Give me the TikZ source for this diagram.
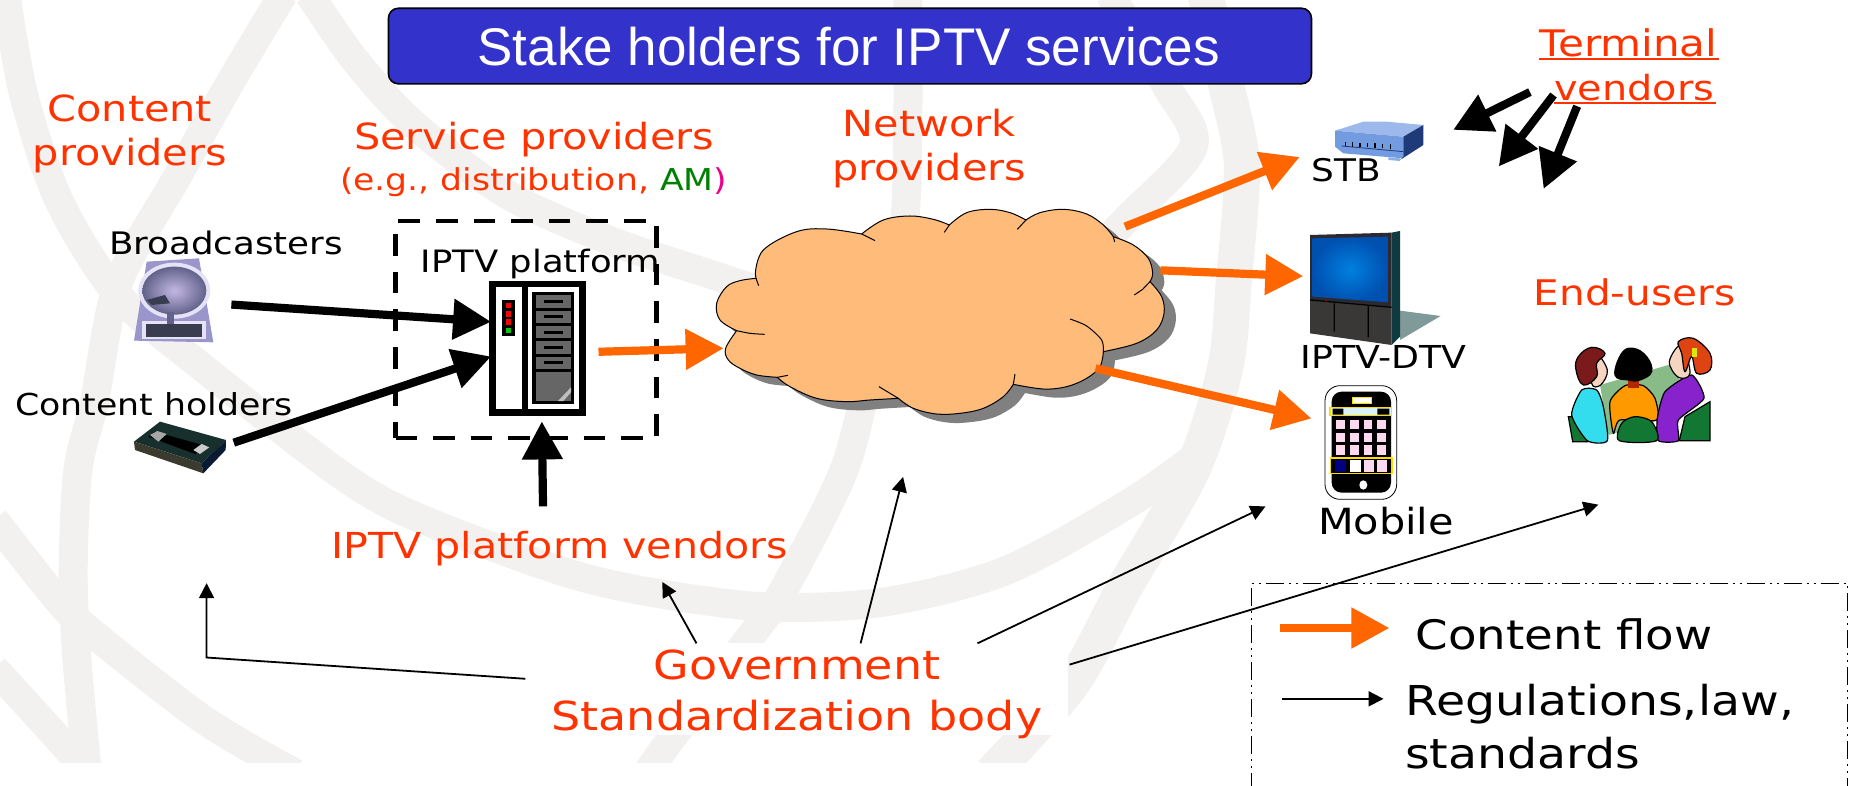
\documentclass[tikz,border=0pt]{standalone}
\usepackage{fontspec}
\setmainfont[FakeStretch=1.15]{DejaVu Sans}
\newfontfamily\titlefont{Liberation Sans}
\usetikzlibrary{arrows.meta,calc}
\definecolor{redtxt}{HTML}{FF3300}
\definecolor{flow}{HTML}{FF6600}
\definecolor{wmark}{HTML}{F2F1F0}
\definecolor{titleblue}{HTML}{3333CC}
\definecolor{cloudfill}{HTML}{FFBB7A}
\definecolor{stbfront}{HTML}{729BE0}
\definecolor{stbtop}{HTML}{9DB9EC}
\definecolor{stbside}{HTML}{1F3A78}
\definecolor{stbfoot}{HTML}{8FB0E8}
\definecolor{tvshadow}{HTML}{7F9A98}
\definecolor{tvside}{HTML}{0E3A40}
\definecolor{tvframe}{HTML}{2A2A30}
\definecolor{tvcab}{HTML}{3A3836}
\definecolor{tvin}{HTML}{0080E0}
\definecolor{tvout}{HTML}{0050B0}
\definecolor{skin}{HTML}{F5D5C0}
\definecolor{dishbg}{HTML}{9A96CC}
\definecolor{dishglow}{HTML}{E4E2F4}
\definecolor{dishin}{HTML}{C4B8E4}
\definecolor{dishout}{HTML}{62628A}
\definecolor{dishdark}{HTML}{3A3C50}
\definecolor{vhstop}{HTML}{17302E}
\definecolor{vhsfront}{HTML}{3B3A2E}
\definecolor{vhsside}{HTML}{0A1A30}
\definecolor{seatgreen}{HTML}{117733}
\definecolor{screengreen}{HTML}{88BB88}
\definecolor{shirtcyan}{HTML}{33DDEE}
\definecolor{shirtorange}{HTML}{FF9900}
\definecolor{shirtpurple}{HTML}{8822CC}
\definecolor{hairred}{HTML}{7A1A1A}
\definecolor{hairorange}{HTML}{DD4411}
\newcommand{\cloudshape}{plot[smooth,tension=.6] coordinates{(106,250)(130,180)(230,125)(320,117)(425,132)} -- plot[smooth,tension=.6] coordinates{(425,132)(490,90)(570,78)(640,88)(688,105)} -- plot[smooth,tension=.6] coordinates{(688,105)(740,68)(810,58)(870,68)(918,90)} -- plot[smooth,tension=.6] coordinates{(918,90)(960,68)(1030,58)(1100,72)(1150,105)(1180,140)} -- plot[smooth,tension=.6] coordinates{(1180,140)(1240,165)(1285,205)(1298,250)(1290,275)} -- plot[smooth,tension=.6] coordinates{(1290,275)(1325,320)(1332,370)(1310,420)(1250,460)(1150,485)} -- plot[smooth,tension=.6] coordinates{(1150,485)(1140,530)(1100,565)(1040,590)(970,597)(880,583)} -- plot[smooth,tension=.6] coordinates{(880,583)(850,620)(790,655)(720,670)(650,672)(580,655)(535,625)} -- plot[smooth,tension=.6] coordinates{(535,625)(450,630)(380,635)(290,625)(210,590)(172,562)} -- plot[smooth,tension=.6] coordinates{(172,562)(110,555)(60,535)(25,510)(17,475)(50,422)} -- plot[smooth,tension=.6] coordinates{(50,422)(0,390)(-10,340)(20,290)(60,272)(108,265)} -- cycle}
\tikzset{
  wm/.style={draw=wmark,line width=14.5pt,line cap=butt},
  lab/.style={anchor=base,inner sep=0pt,yshift=-1.1pt,text=redtxt,font=\fontsize{18}{22}\selectfont},
  blk/.style={anchor=base,inner sep=0pt,yshift=-1.1pt,text=black,font=\fontsize{15.4}{18}\selectfont},
  flowarrow/.style={draw=flow,line width=4.1pt,-{Triangle[length=19pt,width=19.5pt,color=flow]}},
  thickarrow/.style={draw=black,line width=4.1pt,-{Triangle[length=19pt,width=19.5pt]}},
  thinarrow/.style={draw=black,line width=.9pt,-{Triangle[length=7.5pt,width=7.5pt]}},
  mini/.style={x=0.16667pt,y=-0.16667pt},
  ol/.style={draw=black,line width=.5pt},
  fig/.style={draw=black,line width=.6pt},
}
\begin{document}
\begin{tikzpicture}[x=0.59025pt,y=-0.59025pt]
\useasboundingbox (0,0) rectangle (1568,665);
% watermark
\begin{scope}
\clip (-5,-5) rectangle (1568,646);
\draw[wm] plot[smooth] coordinates{(262,-5)(300,50)(350,105)(430,165)(520,205)(610,235)(700,265)};
\draw[wm] plot[smooth] coordinates{(240,-5)(195,70)(150,150)(100,240)(80,340)(66,398)(62,483)(65,556)(74,655)};
\draw[wm] plot[smooth] coordinates{(5,-5)(20,80)(50,170)(100,250)(170,310)(283,398)(346,435)(467,481)(542,500)(646,514)(749,510)(853,483)(957,426)(1015,385)};
\draw[wm] plot[smooth] coordinates{(769,-5)(769,100)(765,200)(740,300)(715,398)(663,501)(642,531)(570,624)(548,655)};
\draw[wm] plot[smooth] coordinates{(940,-5)(988,73)(1011,124)(954,186)(918,223)};
\draw[wm,line width=18pt] plot[smooth] coordinates{(1021,-5)(1039,73)(1052,141)(1045,240)(1038,311)(1010,398)(953,497)(908,579)(840,655)};
\draw[wm] plot[smooth] coordinates{(-5,440)(48,507)(78,536)(173,610)(250,655)};
\draw[wm] plot[smooth] coordinates{(-5,566)(55,632)(75,655)};
\end{scope}
\fill[white] (445,545) rectangle (905,623);
% title
\node[draw=black,line width=.8pt,fill=titleblue,rounded corners=5pt,minimum width=461.5pt,minimum height=37.8pt,inner sep=0pt] (titlebox) at (720,39) {};
\node[anchor=base,inner sep=0pt,text=white,font=\titlefont\fontsize{26.5}{30}\selectfont] (title) at (719,55.6) {Stake holders for IPTV services};
% cloud
\begin{scope}[shift={(609.9,160.95)},mini]
\begin{scope}[shift={(35,26)}]
\fill[black!50] \cloudshape;
\end{scope}
\filldraw[fill=cloudfill,ol] \cloudshape;
\draw[ol] (425,132)--(465,152) (688,105)--(673,127) (918,90)--(892,118) (1180,140)--(1184,156)
 (1290,275)--(1268,298)--(1243,315);
\draw[ol] plot[smooth] coordinates{(1150,485)(1145,450)(1100,408)(1050,387)};
\draw[ol] (880,583)--(885,552) (535,625)--(477,590) (172,562)--(204,556);
\draw[ol] plot[smooth] coordinates{(50,422)(90,430)(134,433)};
\draw[ol] (108,265)--(116,287);
\end{scope}
\coordinate (cloud) at (790,280);
% dashed box
\node[draw=black,line width=2.3pt,dash pattern=on 10.8pt off 8pt,minimum width=130.4pt,minimum height=108.6pt,inner sep=0pt] (platformbox) at (445.5,279.2) {};
% server
\begin{scope}[shift={(398.14,228.72)},mini]
\fill[black] (58,32) rectangle (347,437);
\fill[white] (77,51) rectangle (155,418);
\fill[white] (173,51) rectangle (328,418);
\fill[black] (96,90) rectangle (135,198);
\foreach \y in {107,132,156}{\fill[red] (107,\y-8) rectangle (124,\y+8);}
\fill[green!80!black] (107,173) rectangle (124,189);
\fill[black] (187,65) rectangle (313,403);
\foreach \y in {76,122,168,214,260}{
  \fill[black!60] (197,\y) rectangle (303,\y+37);
  \fill[black] (221,\y+14) rectangle (280,\y+23);
}
\fill[black!60] (197,306) rectangle (303,393);
\fill[black!25] (264,393)--(303,352)--(303,367)--(280,393)--cycle;
\end{scope}
\coordinate (server) at (455,295);
% dish
\begin{scope}[shift={(101.65,211.77)},mini]
\fill[dishbg] (80,35)--(237,25)--(280,277)--(42,272)--cycle;
\fill[dishglow] (163,122) ellipse [x radius=108,y radius=84];
\fill[dishglow] (65,212) rectangle (258,268);
\shade[inner color=dishin,outer color=dishout] (163,122) ellipse [x radius=96,y radius=72];
\fill[dishout] (142,185) rectangle (163,225);
\fill[dishdark] (80,150)--(135,135)--(150,160)--(95,165)--cycle;
\fill[dishdark] (78,222) rectangle (245,260);
\end{scope}
\coordinate (broadcasters) at (154,257);
% VHS
\begin{scope}[shift={(101.65,211.77)},mini]
\fill[vhstop] (42,575)--(120,515)--(318,570)--(245,640)--cycle;
\fill[vhsfront] (42,575)--(245,640)--(250,670)--(45,600)--cycle;
\fill[vhsside] (245,640)--(318,570)--(317,600)--(250,670)--cycle;
\fill[black] (85,560)--(105,545)--(265,590)--(225,612)--cycle;
\fill[black!35] (90,555)--(112,543)--(140,552)--(115,575)--cycle;
\fill[black!20] (220,600)--(245,582)--(268,592)--(240,612)--cycle;
\end{scope}
\coordinate (vhs) at (155,380);
% STB
\begin{scope}[shift={(1118.2,93.18)},mini]
\fill[stbtop] (45,62)--(130,35)--(200,35)--(310,45)--(250,80)--cycle;
\fill[stbfront] (45,62)--(250,80)--(250,145)--(70,130)--(45,110)--cycle;
\fill[stbside] (250,80)--(310,45)--(310,105)--(240,150)--(250,140)--cycle;
\fill[stbfoot] (205,142)--(240,145)--(240,153)--(205,150)--cycle;
\draw[stbside,line width=.4pt] (65,108)--(250,125);
\foreach \x in {77,98,120,142,165,188,212}{\fill[black] (\x-2,92+\x/20) rectangle (\x+2,105+\x/20);}
\end{scope}
\coordinate (stb) at (1165,118);
% TV
\begin{scope}[shift={(1092.76,186.36)},mini]
\fill[tvshadow] (330,272)--(452,288)--(330,360)--cycle;
\fill[tvside] (305,38)--(330,33)--(330,350)--(305,375)--cycle;
\fill[tvframe] (60,45)--(305,38)--(305,262)--(60,240)--cycle;
\shade[inner color=tvin,outer color=tvout] (68,55)--(293,50)--(293,247)--(68,230)--cycle;
\fill[tvcab] (60,240)--(305,262)--(305,375)--(60,340)--cycle;
\draw[black,line width=.6pt] (133,250)--(133,335) (235,255)--(235,352) (60,240)--(305,262);
\fill[red!70!black] (108,242) circle (3);
\end{scope}
\coordinate (dtv) at (1150,240);
% mobile
\begin{scope}[shift={(1092.76,186.36)},mini]
\draw[black,fill=white,line width=.4pt,rounded corners=7.5pt] (105,497) rectangle (320,838);
\fill[black,rounded corners=5pt] (125,515) rectangle (303,818);
\draw[draw=yellow!80!orange,fill=white,line width=.5pt] (187,533) rectangle (245,552);
\draw[draw=yellow!80!orange,fill=cyan!15,line width=.8pt] (120,563) rectangle (305,587);
\fill[black] (128,566) rectangle (160,584) (262,566) rectangle (298,584);
\foreach \x in {138,180,221,262}{\foreach \y in {600,638,676}{\fill[magenta!15] (\x,\y) rectangle (\x+26,\y+28);}}
\draw[draw=yellow!80!orange,fill=black,line width=.8pt] (122,714) rectangle (306,761);
\fill[blue!50!black] (136,720) rectangle (168,755);
\fill[white] (180,720) rectangle (212,755);
\fill[magenta!15] (222,720) rectangle (252,755);
\fill[magenta!15] (262,720) rectangle (292,755);
\fill[white] (220,795) ellipse [x radius=12,y radius=14];
\end{scope}
\coordinate (mobile) at (1150,375);
% users
\begin{scope}[shift={(1313,271.07)},mini]
\fill[screengreen] (150,195)--(355,135)--(390,180)--(330,300)--(175,345)--cycle;
\filldraw[fill=seatgreen,fig] (55,290)--(78,290)--(112,365)--(68,365)--cycle;
\filldraw[fill=shirtcyan,fig] plot[smooth cycle,tension=.4] coordinates{(95,210)(140,210)(160,260)(172,362)(112,362)(65,285)};
\filldraw[fill=skin,fig] plot[smooth cycle,tension=.6] coordinates{(135,100)(172,150)(152,195)(125,190)};
\filldraw[fill=hairred,fig] plot[smooth cycle,tension=.7] coordinates{(85,110)(125,82)(165,100)(140,130)(140,170)(100,195)(78,150)};
\filldraw[fill=shirtorange,fig] plot[smooth cycle,tension=.4] coordinates{(180,245)(225,197)(280,197)(315,235)(320,300)(210,300)(190,340)};
\fill[black!50!orange!60!red] (235,165) rectangle (268,205);
\filldraw[fill=black,fig] plot[smooth cycle,tension=.7] coordinates{(215,100)(250,85)(290,110)(305,155)(270,180)(235,180)(195,165)};
\filldraw[fill=shirtpurple,fig] plot[smooth cycle,tension=.35] coordinates{(322,295)(345,215)(425,165)(462,235)(385,300)(385,362)(325,362)};
\filldraw[fill=seatgreen,fig] plot[smooth cycle,tension=.5] coordinates{(208,362)(215,310)(255,290)(305,305)(320,362)};
\filldraw[fill=seatgreen,fig] (388,362)--(405,290)--(480,245)--(480,362)--cycle;
\filldraw[fill=skin,fig] plot[smooth cycle,tension=.6] coordinates{(358,125)(395,75)(420,160)(385,172)};
\filldraw[fill=hairorange,fig] plot[smooth cycle,tension=.6] coordinates{(385,65)(430,55)(480,100)(480,150)(440,160)(425,110)(405,155)(395,100)};
\fill[yellow!85!green] (425,85) rectangle (442,112);
\end{scope}
\coordinate (users) at (1390,335);
% red labels
\node[lab,align=center] (contentprov) at (110,138.4) {Content\\providers};
\node[lab] (serviceprov) at (452.5,125) {Service providers};
\node[lab,font=\fontsize{15.05}{18}\selectfont] (serviceeg) at (452,159.6) {(e.g., distribution, \textcolor{green!50!black}{AM}\textcolor{magenta}{)}};
\node[lab,align=center] (netprov) at (787,151) {Network\\providers};
\node[lab,font=\fontsize{18.3}{21}\selectfont] (termv) at (1379.5,45.8) {Terminal};
\node[lab,font=\fontsize{17.3}{21}\selectfont] (vendv) at (1384.5,83) {vendors};
\draw[redtxt,line width=1pt] (1303.6,50)--(1456,50) (1316,87)--(1453.6,87);
\node[lab,font=\fontsize{17.65}{21}\selectfont] (endusers) at (1384.5,257) {End-users};
\node[lab,font=\fontsize{17.9}{21}\selectfont] (platvend) at (474,471) {IPTV platform vendors};
\node[lab,font=\fontsize{20}{25.6}\selectfont,align=center] (gov) at (675,617) {Government\\Standardization body};
% black labels
\node[blk,font=\fontsize{15.5}{18}\selectfont] (lbroad) at (191.5,214) {Broadcasters};
\node[blk,font=\fontsize{15.1}{18}\selectfont] (lholders) at (130.5,349.7) {Content holders};
\node[blk] (lplat) at (458,229.4) {IPTV platform};
\node[blk,font=\fontsize{15.6}{18}\selectfont] (lstb) at (1140.5,152) {STB};
\node[blk,font=\fontsize{15.8}{18}\selectfont] (ldtv) at (1172,310) {IPTV-DTV};
\node[blk,font=\fontsize{18}{21}\selectfont] (lmobile) at (1174,450.5) {Mobile};
\node[blk,font=\fontsize{20.3}{26}\selectfont] (lflow) at (1325,548) {Content flow};
\node[blk,font=\fontsize{20.6}{26.5}\selectfont,anchor=base west] (lreg) at (1190,604) {Regulations,law,};
\node[blk,font=\fontsize{20.6}{26.5}\selectfont,anchor=base west] (lstd) at (1190,649) {standards};
% connector ends
\coordinate (a1s) at (196,258); \coordinate (a1e) at (416,272.6);
\coordinate (a2s) at (198,375); \coordinate (a2e) at (416,302);
\coordinate (a3s) at (460,429); \coordinate (a3e) at (459,357);
\coordinate (a4s) at (507,298); \coordinate (a4e) at (613,295);
\coordinate (a5s) at (953,192); \coordinate (a5e) at (1101,133);
\coordinate (a6s) at (983,229); \coordinate (a6e) at (1104,234);
\coordinate (a7s) at (928,312); \coordinate (a7e) at (1111,354.5);
\coordinate (t1s) at (1296,78); \coordinate (t1e) at (1231,110);
\coordinate (t2s) at (1316,80.5); \coordinate (t2e) at (1269.6,141);
\coordinate (t3s) at (1336,90); \coordinate (t3e) at (1307.6,160);
\coordinate (g1s) at (445,575); \coordinate (g1m) at (175,557); \coordinate (g1e) at (175,494);
\coordinate (g2s) at (590,545); \coordinate (g2e) at (561,493);
\coordinate (g3s) at (729,545); \coordinate (g3e) at (765,404);
\coordinate (g4s) at (828,545); \coordinate (g4e) at (1072,429);
\coordinate (g5s) at (906,563); \coordinate (g5e) at (1354,427.5);
\coordinate (l1s) at (1084,532); \coordinate (l1e) at (1177,532);
\coordinate (l2s) at (1086,592); \coordinate (l2e) at (1172,592);
% arrows
\draw[thickarrow] (a1s)--(a1e);
\draw[thickarrow] (a2s)--(a2e);
\draw[thickarrow] (a3s)--(a3e);
\draw[flowarrow] (a4s)--(a4e);
\draw[flowarrow] (a5s)--(a5e);
\draw[flowarrow] (a6s)--(a6e);
\draw[flowarrow] (a7s)--(a7e);
\draw[thickarrow] (t1s)--(t1e);
\draw[thickarrow] (t2s)--(t2e);
\draw[thickarrow] (t3s)--(t3e);
\draw[thinarrow] (g1s)--(g1m)--(g1e);
\draw[thinarrow] (g2s)--(g2e);
\draw[thinarrow] (g3s)--(g3e);
\draw[thinarrow] (g4s)--(g4e);
\draw[thinarrow] (g5s)--(g5e);
% legend
\draw[black,line width=.6pt,dash pattern=on 9pt off 2.5pt on 1pt off 2.5pt on 1pt off 2.5pt] (1060,670)--(1060,494)--(1565,494)--(1565,670);
\draw[flowarrow] (l1s)--(l1e);
\draw[thinarrow] (l2s)--(l2e);
\end{tikzpicture}
\end{document}
